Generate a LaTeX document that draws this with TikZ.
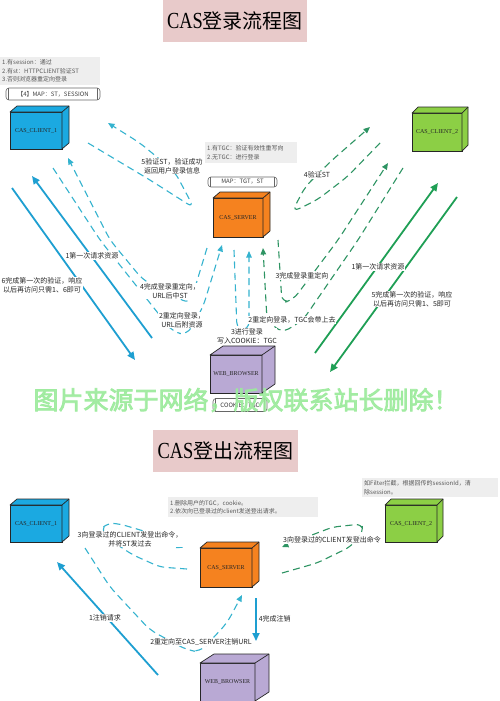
\documentclass[tikz,border=0pt]{standalone}
\usepackage{graphicx}
\usepackage{fontspec}
\setmainfont{Liberation Serif}
\newfontfamily\cjk{Noto Sans CJK SC}
\newfontfamily\cjkwm{Noto Sans CJK SC}[AutoFakeBold=3]
\usetikzlibrary{calc,arrows.meta}
\definecolor{cblue}{HTML}{1BA9E1}
\definecolor{cgreen}{HTML}{8CCF45}
\definecolor{corange}{HTML}{F5821F}
\definecolor{cpurple}{HTML}{B9A9D4}
\definecolor{pinkbg}{HTML}{E8CACA}
\definecolor{notebg}{HTML}{EEEEEE}
\definecolor{ablue}{HTML}{1E9FD1}
\definecolor{dblue}{HTML}{35B3CF}
\definecolor{agreen}{HTML}{1F9F55}
\definecolor{dgreen}{HTML}{2E9463}
\definecolor{wmgreen}{HTML}{9CEB9C}
\newcommand\cubeback[4]{%
  \filldraw[fill=#4, draw=black!85, line width=0.7pt, line join=round]
    (#1.north west) -- ++(#2,-#3) -- ($(#1.north east)+(#2,-#3)$) -- ($(#1.south east)+(#2,-#3)$) -- (#1.south east) -- (#1.north east) -- cycle;
  \draw[black!85, line width=0.7pt] (#1.north east) -- ++(#2,-#3);
}
\newcommand\scrollends[1]{%
  \draw[black!60, line width=0.5pt] ([xshift=3pt]#1.north west) -- ([xshift=3pt]#1.south west);
  \draw[black!60, line width=0.5pt] ([xshift=-3pt]#1.north east) -- ([xshift=-3pt]#1.south east);
}
\tikzset{
 cube/.style={draw=black!85, line width=0.7pt, inner sep=0pt, outer sep=0pt, font=\fontsize{6}{7}\selectfont, text=black!85},
 sarrow/.style={line width=1.8pt, -{Triangle[length=8pt,width=7pt]}},
 darrow/.style={line width=1.1pt, dash pattern=on 7pt off 4.5pt, rounded corners=8pt, -{Triangle[length=6.5pt,width=5.5pt]}},
 dline/.style={line width=1.1pt, dash pattern=on 7pt off 4.5pt, rounded corners=8pt},
 lab/.style={font=\cjk\fontsize{7}{9}\selectfont, fill=white, inner sep=0.6pt, align=center, text=black!85},
 note/.style={fill=notebg, font=\cjk\fontsize{6}{8.5}\selectfont, align=left, text=black!65, inner sep=2pt, anchor=north west},
 scroll/.style={draw=black!60, line width=0.6pt, rounded corners=3pt, fill=white, font=\cjk\fontsize{6}{7}\selectfont, text=black!75, inner sep=0pt},
 titlebox/.style={fill=pinkbg, inner sep=0pt},
}
\begin{document}
\begin{tikzpicture}[x=1pt,y=-1pt]
\useasboundingbox (0,0) rectangle (500,701);
\fill[white] (0,0) rectangle (500,701);

% ===== Titles =====
\node[titlebox, minimum width=144pt, minimum height=42pt] (t1) at (235,21)
  {\fontsize{23}{23}\selectfont\scalebox{0.8}[1]{CAS}\cjk\fontsize{20}{20}\selectfont 登录流程图};
\node[titlebox, minimum width=145pt, minimum height=42pt] (t2) at (225.5,451)
  {\fontsize{23}{23}\selectfont\scalebox{0.8}[1]{CAS}\cjk\fontsize{20}{20}\selectfont 登出流程图};

% ===== Login notes =====
\node[note, text width=96pt, minimum height=28pt] (n1) at (0,57)
  {1.有session：通过\\2.有st：HTTPCLIENT验证ST\\3.否则浏览器重定向登录};
\node[scroll, minimum width=94pt, minimum height=12pt] (m1) at (53,94) {【4】MAP：ST，SESSION};
\scrollends{m1}
\node[note, text width=88pt, minimum height=21pt] (n2) at (205,142)
  {1.有TGC：验证有效性重写向\\2.无TGC：进行登录};
\node[scroll, minimum width=69pt, minimum height=10pt] (m2) at (242.5,182) {MAP：TGT，ST};
\scrollends{m2}

% ===== Login cubes =====
\node[cube, fill=cblue, minimum width=52pt, minimum height=37pt] (c1) at (36,130.5) {CAS\_CLIENT\_1};
\cubeback{c1}{7}{6}{cblue}
\node[cube, fill=cgreen, minimum width=50pt, minimum height=38pt] (c2) at (437,132) {CAS\_CLIENT\_2};
\cubeback{c2}{6}{6}{cgreen}
\node[cube, fill=corange, minimum width=50pt, minimum height=39pt] (srv) at (238,217.5) {CAS\_SERVER};
\cubeback{srv}{7}{6}{corange}
\node[cube, fill=cpurple, minimum width=52pt, minimum height=38pt] (br) at (236,374) {WEB\_BROWSER};
\cubeback{br}{13}{9}{cpurple}
\node[scroll, minimum width=54pt, minimum height=13pt] (m3) at (240,405) {COOKIE：TGC};
\scrollends{m3}

% ===== Login connectors =====
\coordinate (b1s) at (152,338); \coordinate (b1e) at (32,176);
\coordinate (b6s) at (12,188);  \coordinate (b6e) at (135,360);
\draw[sarrow, ablue] (b1s) -- (b1e);
\draw[sarrow, ablue] (b6s) -- (b6e);

\coordinate (l5s) at (88,143); \coordinate (l5e) at (108,123);
\draw[darrow, dblue] (l5s) -- (150,180) -- (194,208) -- (175,172) -- (140,143) -- (l5e);
\coordinate (l4s) at (207,248); \coordinate (l4e) at (68,158);
\draw[darrow, dblue] (l4s) -- (190,304) -- (143,280) -- (110,240) -- (l4e);
\coordinate (l2s) at (53,168); \coordinate (l2e) at (222,245);
\draw[darrow, dblue] (l2s) -- (100,240) -- (173,332) -- (187,335) -- (203,307) -- (l2e);
\coordinate (l3s) at (234,250); \coordinate (l3e) at (249,251);
\draw[darrow, dblue] (l3s) -- (237,330) -- (249,330) -- (l3e);

\coordinate (g4s) at (380,143); \coordinate (g4e) at (370,127);
\draw[darrow, dgreen] (g4s) -- (347,177) -- (317,200) -- (292,212) -- (305,187) -- (330,162) -- (g4e);
\coordinate (g3s) at (278,240); \coordinate (g3e) at (388,163);
\draw[darrow, dgreen] (g3s) -- (282,303) -- (293,300) -- (338,240) -- (g3e);
\coordinate (g2s) at (403,168); \coordinate (g2e) at (263,248);
\draw[darrow, dgreen] (g2s) -- (358,240) -- (303,320) -- (282,333) -- (267,320) -- (g2e);

\coordinate (g1s) at (315,353); \coordinate (g1e) at (438,183);
\coordinate (g5s) at (457,197); \coordinate (g5e) at (330,372);
\draw[sarrow, agreen] (g1s) -- (g1e);
\draw[sarrow, agreen] (g5s) -- (g5e);

% ===== Login labels =====
\node[lab] (la5) at (172,166) {5验证ST，验证成功\\返回用户登录信息};
\node[lab] (la4) at (170,291) {4完成登录重定向，\\URL后中ST};
\node[lab] (la2) at (182,320) {2重定向登录，\\URL后附资源};
\node[lab] (la3) at (247,336) {3进行登录\\写入COOKIE：TGC};
\node[lab] (la1) at (92,256) {1第一次请求资源};
\node[lab] (la6) at (42,285) {6完成第一次的验证，响应\\以后再访问只需1、6即可};
\node[lab] (lg4) at (317,175) {4验证ST};
\node[lab] (lg3) at (302,276) {3完成登录重定向};
\node[lab] (lg2) at (292,320) {2重定向登录，TGC会带上去};
\node[lab] (lg1) at (378,267) {1第一次请求资源};
\node[lab] (lg5) at (412,299) {5完成第一次的验证，响应\\以后再访问只需1、5即可};

% ===== Logout =====
\node[note, text width=146pt, minimum height=20pt] (n3) at (168,497)
  {1.删除用户的TGC，cookie。\\2.依次向已登录过的client发送登出请求。};
\node[note, text width=132pt, minimum height=19pt] (n4) at (362,478)
  {如Filter拦截，根据回传的sessionId，清\\除session。};

\node[cube, fill=cblue, minimum width=52pt, minimum height=37pt] (d1) at (36,523.5) {CAS\_CLIENT\_1};
\cubeback{d1}{7}{6}{cblue}
\node[cube, fill=cgreen, minimum width=52pt, minimum height=37pt] (d2) at (411,523.5) {CAS\_CLIENT\_2};
\cubeback{d2}{6}{6}{cgreen}
\node[cube, fill=corange, minimum width=52pt, minimum height=39pt] (dsrv) at (226,567.5) {CAS\_SERVER};
\cubeback{dsrv}{7}{6}{corange}
\node[cube, fill=cpurple, minimum width=55pt, minimum height=38pt] (dbr) at (227.5,682) {WEB\_BROWSER};
\cubeback{dbr}{14}{9}{cpurple}

\coordinate (o1s) at (158,675); \coordinate (o1e) at (57,562);
\draw[sarrow, ablue] (o1s) -- (o1e);
\coordinate (o4s) at (256,598); \coordinate (o4e) at (256,641);
\draw[sarrow, ablue] (o4s) -- (o4e);

\coordinate (o2s) at (85,548); \coordinate (o2e) at (242,595);
\draw[darrow, dblue] (o2s) -- (110,587) -- (150,630) -- (187,650) -- (200,652) -- (227,623) -- (o2e);
\coordinate (o3s) at (187,569); \coordinate (o3e) at (183,548);
\draw[darrow, dblue, rounded corners=6pt] (o3s) -- (160,567) -- (133,555) -- (110,540) -- (101,529) -- (108,523) -- (120,524) -- (147,532) -- (o3e);
\coordinate (o5s) at (282,573); \coordinate (o5e) at (282,547);
\draw[darrow, dgreen, rounded corners=6pt] (o5s) -- (317,563) -- (350,547) -- (363,532) -- (362,524) -- (333,527) -- (317,533) -- (o5e);

\node[lab] (lo3) at (130,539) {3向登录过的CLIENT发登出命令，\\并将ST发过去};
\node[lab] (lo5) at (332,540) {3向登录过的CLIENT发登出命令};
\node[lab] (lo1) at (105,618) {1注销请求};
\node[lab] (lo2) at (201,642) {2重定向至CAS\_SERVER注销URL};
\node[lab, anchor=west] (lo4) at (258,619) {4完成注销};

% ===== Watermark =====
\node[font=\cjkwm\bfseries\fontsize{25}{25}\selectfont, text=wmgreen, opacity=0.9] (wm) at (246,400)
  {图片来源于网络，版权联系站长删除！};
\end{tikzpicture}
\end{document}
